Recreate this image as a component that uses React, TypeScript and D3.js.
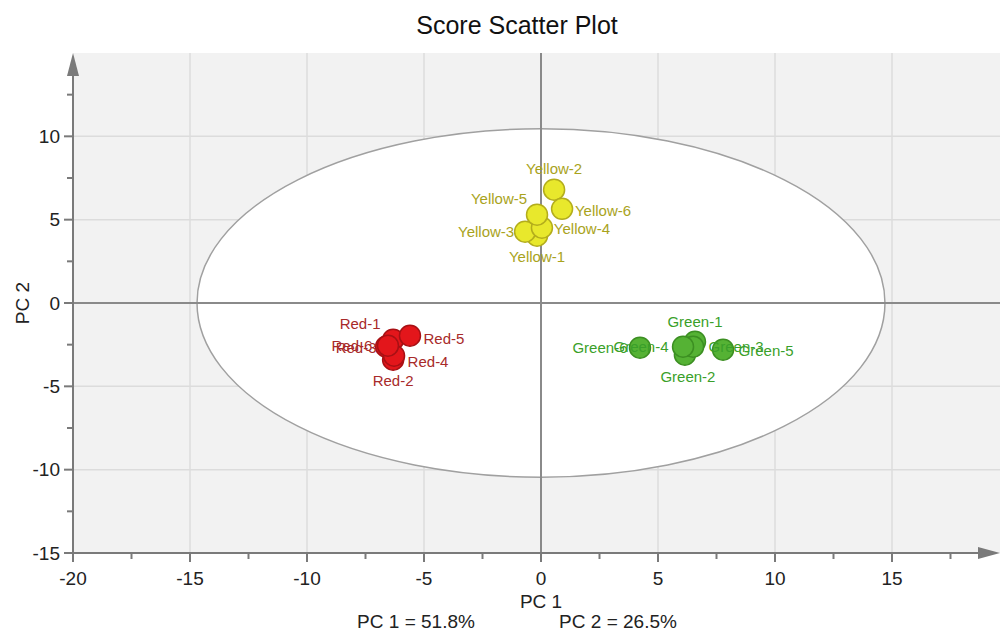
import React from "react";
import * as d3 from "d3";

const W = 1000;
const H = 633;

const groups = ["Red", "Green", "Yellow"];
const names = [
  "Red-1", "Red-2", "Red-3", "Red-4", "Red-5", "Red-6",
  "Green-1", "Green-2", "Green-3", "Green-4", "Green-5", "Green-6",
  "Yellow-1", "Yellow-2", "Yellow-3", "Yellow-4", "Yellow-5", "Yellow-6",
];
const pc1 = [
  -6.32, -6.32, -6.62, -6.28, -5.6, -6.54,
  6.58, 6.15, 6.5, 6.07, 7.78, 4.23,
  -0.17, 0.56, -0.68, 0.04, -0.17, 0.9,
];
const pc2 = [
  -2.2, -3.4, -2.62, -3.16, -1.96, -2.56,
  -2.32, -3.1, -2.62, -2.62, -2.8, -2.68,
  4.04, 6.8, 4.28, 4.52, 5.3, 5.65,
];
// label placement offsets (px) relative to point
const labelDx = [
  -33, 0, -30, 34, 34, -36,
  0, 3, 43, -42, 43, -40,
  0, 0, -39, 40, -38, 41,
];
const labelDy = [
  -16, 21, 1, 6, 3, 0,
  -20, 22, 0, 0, 1, 0,
  21, -21, 0, 1, -16, 2,
];

const xTicks = [-20, -15, -10, -5, 0, 5, 10, 15];
const yTicks = [-15, -10, -5, 0, 5, 10];
const xMinor = [-17.5, -12.5, -7.5, -2.5, 2.5, 7.5, 12.5, 17.5];
const yMinor = [-12.5, -7.5, -2.5, 2.5, 7.5, 12.5];

const ellipseRx = 14.7;
const ellipseRy = 10.45;

const fills: Record<string, string> = { Red: "#e3161b", Green: "#55b234", Yellow: "#e8e82c" };
const strokes: Record<string, string> = { Red: "#a81014", Green: "#3c8f22", Yellow: "#b3ad1c" };
const textCols: Record<string, string> = { Red: "#a82a2a", Green: "#3a9f2a", Yellow: "#a9a31c" };

const left = 73, right = 1000, top = 53, bottom = 553;
const x = d3.scaleLinear().domain([-20, 20]).range([left, left + 40 * 23.4]);
const y = d3.scaleLinear().domain([-15, 15]).range([bottom, top]);

const FONT = "Arial, 'Liberation Sans', sans-serif";

export default function App() {
  const pts = names.map((n, i) => ({
    name: n,
    group: groups.find((g) => n.startsWith(g)) as string,
    x: pc1[i],
    y: pc2[i],
    dx: labelDx[i],
    dy: labelDy[i],
  }));
  const axisCol = "#7a7a7a";
  return (
    <svg width={W} height={H} style={{ position: "absolute", left: 0, top: 0 }} fontFamily={FONT}>
      <rect x={0} y={0} width={W} height={H} fill="#ffffff" />
      <text x={517} y={25} textAnchor="middle" dominantBaseline="central" fontSize={25} fill="#111">
        Score Scatter Plot
      </text>
      <rect x={left} y={top} width={right - left} height={bottom - top} fill="#f2f2f2" />
      {xTicks.filter((t) => t !== 0 && t !== -20).map((t) => (
        <line key={"gx" + t} x1={x(t)} x2={x(t)} y1={top} y2={bottom} stroke="#dcdcdc" strokeWidth={1.5} />
      ))}
      {yTicks.filter((t) => t !== 0 && t !== -15).map((t) => (
        <line key={"gy" + t} x1={left} x2={right} y1={y(t)} y2={y(t)} stroke="#dcdcdc" strokeWidth={1.5} />
      ))}
      <ellipse
        cx={x(0)}
        cy={y(0)}
        rx={x(ellipseRx) - x(0)}
        ry={y(0) - y(ellipseRy)}
        fill="#ffffff"
        stroke="#a0a0a0"
        strokeWidth={1.5}
      />
      <line x1={x(0)} x2={x(0)} y1={top} y2={bottom} stroke="#8a8a8a" strokeWidth={2} />
      <line x1={left} x2={right} y1={y(0)} y2={y(0)} stroke="#8a8a8a" strokeWidth={2} />
      <line x1={left} x2={right - 20} y1={bottom} y2={bottom} stroke={axisCol} strokeWidth={2} />
      <line x1={left} x2={left} y1={bottom} y2={top + 20} stroke={axisCol} strokeWidth={2} />
      <path d={`M${right},${bottom} L${right - 22},${bottom - 6} L${right - 22},${bottom + 6} Z`} fill={axisCol} />
      <path d={`M${left},${top} L${left - 6},${top + 23} L${left + 6},${top + 23} Z`} fill={axisCol} />
      {xTicks.map((t) => (
        <g key={"tx" + t}>
          <line x1={x(t)} x2={x(t)} y1={bottom} y2={bottom + 9} stroke={axisCol} strokeWidth={2} />
          <text x={x(t)} y={578} textAnchor="middle" dominantBaseline="central" fontSize={19} fill="#222">
            {t}
          </text>
        </g>
      ))}
      {xMinor.filter((t) => x(t) < right - 20).map((t) => (
        <line key={"mx" + t} x1={x(t)} x2={x(t)} y1={bottom} y2={bottom + 6} stroke={axisCol} strokeWidth={2} />
      ))}
      {yTicks.map((t) => (
        <g key={"ty" + t}>
          <line x1={left - 9} x2={left} y1={y(t)} y2={y(t)} stroke={axisCol} strokeWidth={2} />
          <text x={60} y={y(t)} textAnchor="end" dominantBaseline="central" fontSize={19} fill="#222">
            {t}
          </text>
        </g>
      ))}
      {yMinor.filter((t) => y(t) > top + 22).map((t) => (
        <line key={"my" + t} x1={left - 6} x2={left} y1={y(t)} y2={y(t)} stroke={axisCol} strokeWidth={2} />
      ))}
      <text x={x(0)} y={601} textAnchor="middle" dominantBaseline="central" fontSize={19} fill="#222">
        PC 1
      </text>
      <text
        transform={`translate(22,${y(0)}) rotate(-90)`}
        textAnchor="middle"
        dominantBaseline="central"
        fontSize={19}
        fill="#222"
      >
        PC 2
      </text>
      <text x={416} y={621} textAnchor="middle" dominantBaseline="central" fontSize={19} fill="#222">
        PC 1 = 51.8%
      </text>
      <text x={618} y={621} textAnchor="middle" dominantBaseline="central" fontSize={19} fill="#222">
        PC 2 = 26.5%
      </text>
      {pts.map((p) => (
        <circle
          key={"c" + p.name}
          cx={x(p.x)}
          cy={y(p.y)}
          r={10.5}
          fill={fills[p.group]}
          stroke={strokes[p.group]}
          strokeWidth={1.5}
        />
      ))}
      {pts.map((p) => (
        <text
          key={"l" + p.name}
          x={x(p.x) + p.dx}
          y={y(p.y) + p.dy}
          textAnchor="middle"
          dominantBaseline="central"
          fontSize={15}
          fill={textCols[p.group]}
        >
          {p.name}
        </text>
      ))}
    </svg>
  );
}
